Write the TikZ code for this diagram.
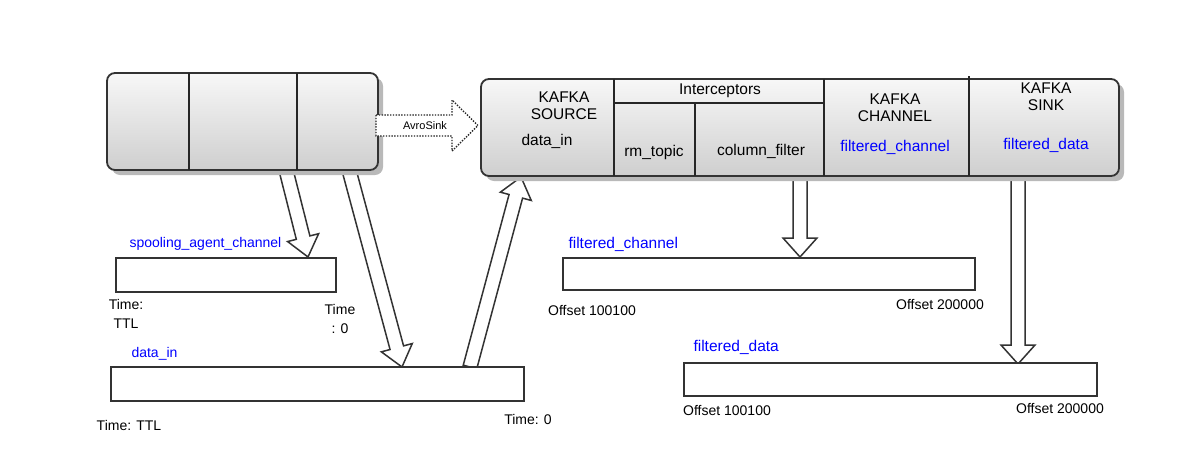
\documentclass[tikz,border=0pt]{standalone}
\usepackage{fontspec}
\setmainfont{Liberation Sans}
\usetikzlibrary{calc, shadows}

\begin{document}
\begin{tikzpicture}[x=1pt, y=-1pt]
\tikzstyle{agent}=[rectangle, rounded corners=8pt, draw=black!80, line width=1.8pt, top color=gray!6, bottom color=gray!38, drop shadow={shadow xshift=5pt, shadow yshift=-5pt, fill=gray!55, opacity=1}]
\tikzstyle{channel}=[rectangle, draw=black!80, line width=1.8pt, fill=white, minimum height=34pt]
\tikzstyle{divider}=[draw=black!85, line width=1.8pt]
\tikzstyle{big}=[font=\fontsize{15.5}{17}\selectfont, align=center]
\tikzstyle{small}=[font=\fontsize{14}{19}\selectfont, align=center]
\tikzstyle{topic}=[text=blue]
\tikzstyle{connect}=[draw=black!80, line width=1.5pt, fill=white, line join=miter]
\tikzstyle{avro}=[draw=black!85, line width=1.4pt, dash pattern=on 1.4pt off 1.4pt, fill=white]
\tikzset{blockarrow/.style n args={3}{to path={
  ($(\tikztostart)!#1!90:(\tikztotarget)$)
  -- ($(\tikztotarget)!#3!(\tikztostart)!#1!-90:(\tikztostart)$)
  -- ($(\tikztotarget)!#3!(\tikztostart)!#2!-90:(\tikztostart)$)
  -- (\tikztotarget)
  -- ($(\tikztotarget)!#3!(\tikztostart)!#2!90:(\tikztostart)$)
  -- ($(\tikztotarget)!#3!(\tikztostart)!#1!90:(\tikztostart)$)
  -- ($(\tikztostart)!#1!-90:(\tikztotarget)$) -- cycle}}}
\useasboundingbox (0,0) rectangle (1182,469);

% arrow ends
\coordinate (a1s) at (286,170);  \coordinate (a1e) at (308,257);
\coordinate (a2s) at (349,170);  \coordinate (a2e) at (402,367);
\coordinate (a3s) at (470,367);  \coordinate (a3e) at (521,177);
\coordinate (a4s) at (800,176);  \coordinate (a4e) at (800,257);
\coordinate (a5s) at (1018,176); \coordinate (a5e) at (1018,364);
\coordinate (avs) at (376,125.5); \coordinate (ave) at (478,125.5);

\draw[connect] (a1s) to[blockarrow={7pt}{16pt}{20pt}] (a1e);
\draw[connect] (a2s) to[blockarrow={7pt}{16pt}{20pt}] (a2e);
\draw[connect] (a3s) to[blockarrow={7pt}{16pt}{20pt}] (a3e);
\draw[connect] (a4s) to[blockarrow={7pt}{17pt}{19pt}] (a4e);
\draw[connect] (a5s) to[blockarrow={7pt}{17pt}{19pt}] (a5e);

% spooling agent
\node[agent, minimum width=271pt, minimum height=97pt] (spool) at (242.5,121.5) {};
\draw[divider] (189,73) -- (189,170);
\draw[divider] (297,73) -- (297,170);

% kafka agent
\node[agent, minimum width=638pt, minimum height=97pt] (kafka) at (800,127.5) {};
\draw[divider] (614,79) -- (614,176);
\draw[divider] (824,79) -- (824,176);
\draw[divider] (969,76) -- (969,176);
\draw[divider] (614,103) -- (824,103);
\draw[divider] (695,103) -- (695,176);

\draw[avro] (avs) to[blockarrow={10.5pt}{25.5pt}{26pt}] (ave);
\node[font=\fontsize{11}{13}\selectfont] (avrolbl) at (425,126) {AvroSink};

\node[big] (source) at (564,106) {KAFKA\\SOURCE};
\node[big] (srctopic) at (547,141) {data\_in};
\node[big] (intc) at (720,91) {Interceptors};
\node[big] (rmtopic) at (654,152) {rm\_topic};
\node[big] (colfilter) at (761,151) {column\_filter};
\node[big] (kchannel) at (895,108) {KAFKA\\CHANNEL};
\node[big, topic] (chtopic) at (895,147) {filtered\_channel};
\node[big] (ksink) at (1046,97) {KAFKA\\SINK};
\node[big, topic] (sinktopic) at (1046,145) {filtered\_data};

% channels
\node[channel, minimum width=220pt] (spoolch) at (226,275) {};
\node[small, topic, anchor=west] (spoolchl) at (126,244) {spooling\_agent\_channel};
\node[small] (spoolttl) at (126,314) {Time:\\TTL};
\node[small] (spoolzero) at (340,319) {Time\\: 0};

\node[channel, minimum width=413pt] (datain) at (317.5,384) {};
\node[small, topic, anchor=west] (datainl) at (128,354) {data\_in};
\node[small] (datainttl) at (129,425) {Time: TTL};
\node[small] (dataizero) at (528,419) {Time: 0};

\node[channel, minimum width=412pt, minimum height=32pt] (filtch) at (769,274) {};
\node[big, topic, anchor=west] (filtchl) at (565,244) {filtered\_channel};
\node[small] (filtchlo) at (592,310) {Offset 100100};
\node[small] (filtchhi) at (940,304) {Offset 200000};

\node[channel, minimum width=413pt, minimum height=33pt] (filtdata) at (890.5,379.5) {};
\node[big, topic, anchor=west] (filtdatal) at (690,347) {filtered\_data};
\node[small] (filtdatalo) at (727,410) {Offset 100100};
\node[small] (filtdatahi) at (1060,408) {Offset 200000};
\end{tikzpicture}
\end{document}
